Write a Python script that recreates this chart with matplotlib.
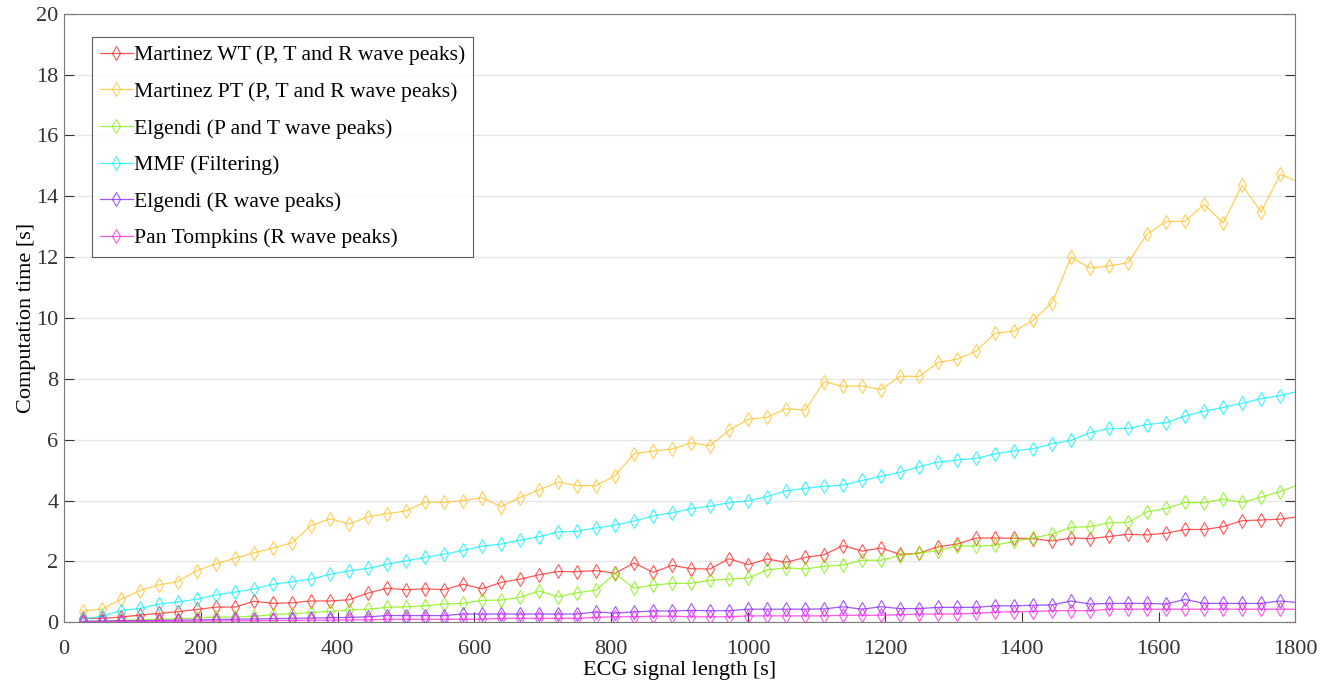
import numpy as np
import matplotlib
matplotlib.use("Agg")
import matplotlib.pyplot as plt

# Longitud de la señal: bloques de 10000 muestras a 360 Hz
n_puntos = 65
longitud = np.arange(1, n_puntos + 1) * 10000 / 360.0

martinez_wt = [0.13, 0.13, 0.17, 0.24, 0.29, 0.35, 0.42, 0.50, 0.50, 0.69,
               0.62, 0.64, 0.70, 0.70, 0.74, 0.96, 1.12, 1.07, 1.10, 1.07,
               1.25, 1.10, 1.31, 1.42, 1.56, 1.67, 1.66, 1.70, 1.61, 1.95,
               1.64, 1.87, 1.76, 1.75, 2.09, 1.89, 2.08, 1.97, 2.13, 2.22,
               2.52, 2.34, 2.44, 2.23, 2.27, 2.48, 2.57, 2.77, 2.77, 2.76,
               2.75, 2.67, 2.77, 2.75, 2.82, 2.89, 2.87, 2.93, 3.05, 3.05,
               3.14, 3.34, 3.36, 3.39, 3.47]

martinez_pt = [0.37, 0.43, 0.76, 1.04, 1.23, 1.34, 1.70, 1.92, 2.11, 2.28,
               2.44, 2.61, 3.18, 3.40, 3.23, 3.47, 3.57, 3.66, 3.95, 3.94,
               4.00, 4.09, 3.80, 4.10, 4.35, 4.61, 4.49, 4.49, 4.82, 5.54,
               5.63, 5.69, 5.90, 5.80, 6.31, 6.67, 6.74, 7.02, 6.97, 7.91,
               7.75, 7.77, 7.65, 8.09, 8.08, 8.54, 8.65, 8.91, 9.50, 9.57,
               9.92, 10.51, 12.00, 11.64, 11.71, 11.82, 12.76, 13.17, 13.18, 13.74,
               13.12, 14.37, 13.48, 14.72, 14.47]

elgendi_pt = [0.03, 0.04, 0.06, 0.08, 0.10, 0.12, 0.14, 0.17, 0.17, 0.20,
              0.25, 0.28, 0.32, 0.36, 0.40, 0.43, 0.49, 0.51, 0.54, 0.60,
              0.62, 0.72, 0.73, 0.82, 1.03, 0.84, 0.97, 1.06, 1.60, 1.12,
              1.22, 1.28, 1.28, 1.38, 1.42, 1.45, 1.72, 1.79, 1.75, 1.84,
              1.88, 2.04, 2.04, 2.19, 2.28, 2.35, 2.52, 2.50, 2.53, 2.66,
              2.77, 2.90, 3.12, 3.14, 3.27, 3.28, 3.63, 3.74, 3.94, 3.93,
              4.05, 3.94, 4.11, 4.29, 4.53]

mmf = [0.10, 0.20, 0.38, 0.46, 0.60, 0.67, 0.76, 0.90, 0.99, 1.10,
       1.25, 1.33, 1.42, 1.58, 1.69, 1.77, 1.91, 2.02, 2.13, 2.24,
       2.36, 2.50, 2.57, 2.70, 2.81, 2.97, 2.99, 3.10, 3.19, 3.33,
       3.49, 3.60, 3.73, 3.82, 3.93, 3.99, 4.13, 4.32, 4.40, 4.47,
       4.51, 4.66, 4.80, 4.93, 5.11, 5.27, 5.33, 5.39, 5.53, 5.64,
       5.70, 5.87, 5.98, 6.23, 6.37, 6.37, 6.50, 6.56, 6.78, 6.94,
       7.06, 7.20, 7.35, 7.45, 7.60]

elgendi_r = [0.03, 0.04, 0.05, 0.05, 0.06, 0.07, 0.08, 0.09, 0.10, 0.11,
             0.12, 0.13, 0.14, 0.15, 0.16, 0.18, 0.22, 0.22, 0.22, 0.22,
             0.27, 0.27, 0.27, 0.27, 0.27, 0.27, 0.27, 0.34, 0.30, 0.34,
             0.37, 0.37, 0.39, 0.38, 0.38, 0.43, 0.43, 0.43, 0.43, 0.44,
             0.51, 0.43, 0.51, 0.45, 0.45, 0.49, 0.49, 0.49, 0.54, 0.54,
             0.56, 0.57, 0.70, 0.60, 0.62, 0.62, 0.62, 0.60, 0.75, 0.62,
             0.62, 0.62, 0.62, 0.70, 0.64]

pan_tompkins = [0.01, 0.01, 0.02, 0.02, 0.03, 0.03, 0.04, 0.04, 0.05, 0.05,
                0.06, 0.06, 0.07, 0.07, 0.08, 0.08, 0.10, 0.10, 0.10, 0.10,
                0.10, 0.10, 0.13, 0.13, 0.13, 0.13, 0.13, 0.16, 0.18, 0.18,
                0.20, 0.20, 0.18, 0.18, 0.18, 0.21, 0.21, 0.21, 0.21, 0.21,
                0.23, 0.23, 0.23, 0.25, 0.27, 0.27, 0.27, 0.30, 0.33, 0.35,
                0.35, 0.38, 0.38, 0.38, 0.43, 0.43, 0.43, 0.43, 0.43, 0.43,
                0.43, 0.43, 0.43, 0.43, 0.43]

series = [
    ("Martinez WT (P, T and R wave peaks)", martinez_wt, "#FF2020"),
    ("Martinez PT (P, T and R wave peaks)", martinez_pt, "#FFC020"),
    ("Elgendi (P and T wave peaks)", elgendi_pt, "#80F000"),
    ("MMF (Filtering)", mmf, "#00F0FF"),
    ("Elgendi (R wave peaks)", elgendi_r, "#8020FF"),
    ("Pan Tompkins (R wave peaks)", pan_tompkins, "#FF20E0"),
]

plt.rcParams["font.family"] = ["Liberation Serif", "DejaVu Serif"]

fig = plt.figure(figsize=(13.34, 6.86), dpi=100)
ax = fig.add_axes([0.048, 0.0929, 0.923, 0.887])

for nombre, valores, color in series:
    ax.plot(longitud, valores, color=color, alpha=0.75, linewidth=0.9,
            marker="d", markersize=7, markerfacecolor="none",
            markeredgewidth=0.8, label=nombre)

ax.set_xlim(0, 1800)
ax.set_ylim(0, 20)
ax.set_xticks(np.arange(0, 1801, 200))
ax.set_yticks(np.arange(0, 21, 2))
ax.grid(axis="y", color="#e6e6e6", linewidth=1)
ax.set_axisbelow(True)
ax.tick_params(direction="in", length=7, labelsize=16, colors="#333333",
               top=False, right=True)
ax.tick_params(axis="x", pad=13)
ax.tick_params(axis="y", pad=4)
for lado in ax.spines.values():
    lado.set_color("#7a7a7a")

ax.set_xlabel("ECG signal length [s]", fontsize=16, labelpad=1)
ax.set_ylabel("Computation time [s]", fontsize=16, labelpad=0)

leg = ax.legend(loc="upper left", bbox_to_anchor=(0.0227, 0.962),
                borderaxespad=0, fontsize=15.6, frameon=True, fancybox=False,
                edgecolor="#333333", labelspacing=0.76, handlelength=1.5,
                handletextpad=0.05, borderpad=0.38)
leg.get_frame().set_linewidth(0.8)

plt.savefig("out.png", dpi=100)
